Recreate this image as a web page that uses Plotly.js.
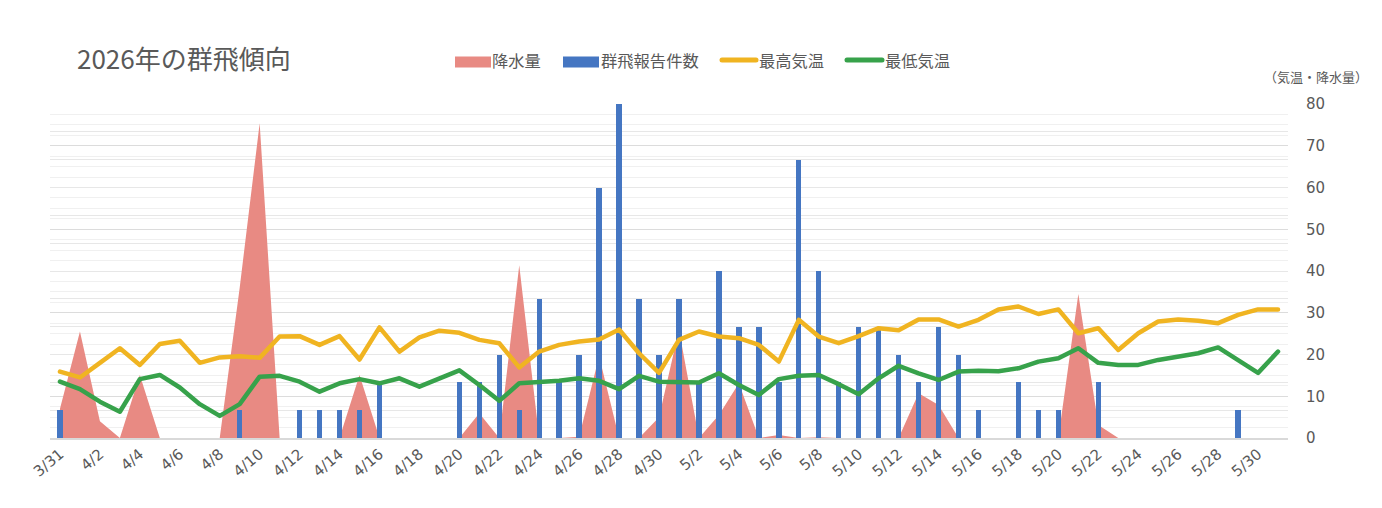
<!DOCTYPE html>
<html>
<head>
<meta charset="utf-8">
<script src="https://cdn.plot.ly/plotly-3.0.1.min.js"></script>
<style>
html,body{margin:0;padding:0;background:#fff;}
.scatterlayer .js-line{stroke-linejoin:round;stroke-linecap:round;}
.shapelayer path{stroke-linecap:round;}
</style>
</head>
<body>
<div id="chart" style="width:1382px;height:508px;"></div>
<script>
const categories = ["3/31",
 "4/1","4/2","4/3","4/4","4/5","4/6","4/7","4/8","4/9","4/10",
 "4/11","4/12","4/13","4/14","4/15","4/16","4/17","4/18","4/19","4/20",
 "4/21","4/22","4/23","4/24","4/25","4/26","4/27","4/28","4/29","4/30",
 "5/1","5/2","5/3","5/4","5/5","5/6","5/7","5/8","5/9","5/10",
 "5/11","5/12","5/13","5/14","5/15","5/16","5/17","5/18","5/19","5/20",
 "5/21","5/22","5/23","5/24","5/25","5/26","5/27","5/28","5/29","5/30","5/31"];

// 降水量 (mm)
const rainfall = [7,
 25.5,4,0,15.1,0,0,0,0,36,75.4,
 0,0,0,0,15.1,0,0,0,0,0,
 5.9,0,41.4,0,0,0.3,19.6,0,0,5,
 25.9,0,5.5,13.1,0,0.7,0,0.2,0,0,
 0,0,10.7,7.9,0,0,0,0,0,0,
 34.5,3.1,0,0,0,0,0,0,0,0,0];

// 群飛報告件数
const reports = [1,
 0,0,0,0,0,0,0,0,1,0,
 0,1,1,1,1,2,0,0,0,2,
 2,3,1,5,2,3,9,12,5,3,
 5,2,6,4,4,2,10,6,2,4,
 4,3,2,4,3,1,0,2,1,1,
 0,2,0,0,0,0,0,0,1,0,0];

// 最高気温
const tempHigh = [15.9,
 14.5,18.0,21.5,17.5,22.5,23.3,18.0,19.3,19.6,19.2,
 24.3,24.4,22.3,24.4,18.8,26.5,20.7,24.1,25.7,25.2,
 23.5,22.7,16.9,20.7,22.3,23.1,23.6,26.0,20.3,15.6,
 23.5,25.5,24.3,23.9,22.3,18.3,28.3,24.3,22.7,24.4,
 26.3,25.8,28.4,28.4,26.7,28.3,30.8,31.5,29.7,30.8,
 25.1,26.3,21.1,25.1,27.9,28.4,28.1,27.5,29.5,30.8,30.8];

// 最低気温
const tempLow = [13.5,
 11.7,8.7,6.3,14.1,15.1,12.1,8.1,5.3,8.1,14.7,
 14.9,13.5,11.1,13.1,14.1,13.1,14.3,12.3,14.3,16.2,
 12.7,8.9,13.1,13.3,13.7,14.3,13.7,11.7,14.9,13.5,
 13.3,13.3,15.5,12.7,10.3,14.1,14.9,15.1,12.9,10.5,
 14.3,17.3,15.5,13.9,15.9,16.1,16.0,16.7,18.3,19.1,
 21.5,18.0,17.5,17.5,18.7,19.5,20.3,21.7,18.7,15.6,20.7];

const seriesNames = ['降水量', '群飛報告件数', '最高気温', '最低気温'];
const seriesColors = ['#e88a83', '#4576c2', '#f0b421', '#37a24b'];

const yTicks = [0,10,20,30,40,50,60,70,80];
const xTickLabels = categories.filter((c, i) => i % 2 === 0);

const txt = '#595959';
const numFont = 'DejaVu Sans, Verdana, sans-serif';
const jpFont = 'Noto Sans CJK JP, sans-serif';

const traces = [
  {
    name: seriesNames[0], type: 'scatter', mode: 'lines',
    x: categories, y: rainfall, xaxis: 'x', yaxis: 'y',
    fill: 'tozeroy', fillcolor: seriesColors[0],
    line: {width: 0, color: seriesColors[0]}
  },
  {
    name: seriesNames[1], type: 'bar',
    x: categories, y: reports, xaxis: 'x', yaxis: 'y2',
    width: 0.27, marker: {color: seriesColors[1]}
  },
  {
    name: seriesNames[2], type: 'scatter', mode: 'lines',
    x: categories, y: tempHigh, xaxis: 'x', yaxis: 'y3',
    line: {color: seriesColors[2], width: 4.5}
  },
  {
    name: seriesNames[3], type: 'scatter', mode: 'lines',
    x: categories, y: tempLow, xaxis: 'x', yaxis: 'y3',
    line: {color: seriesColors[3], width: 4.5}
  }
];

// plot area in pixels: x 50..1288, y 104..438
const PX = (px) => (px - 50) / 1238;
const PY = (py) => (438 - py) / 334;
const legendSwatches = [
  {kind: 'rect', x0: 455, x1: 491, y: 62},
  {kind: 'rect', x0: 563, x1: 599, y: 62},
  {kind: 'line', x0: 722, x1: 756, y: 60},
  {kind: 'line', x0: 847, x1: 882, y: 60}
];
const legendTextX = [490, 599, 757, 883];

const shapes = legendSwatches.map((s, i) => s.kind === 'rect'
  ? {type: 'rect', xref: 'paper', yref: 'paper',
     x0: PX(s.x0), x1: PX(s.x1), y0: PY(s.y + 5.5), y1: PY(s.y - 5.5),
     fillcolor: seriesColors[i], line: {width: 0}}
  : {type: 'line', xref: 'paper', yref: 'paper',
     x0: PX(s.x0), x1: PX(s.x1), y0: PY(s.y), y1: PY(s.y),
     line: {color: seriesColors[i], width: 5}});

const annotations = seriesNames.map((n, i) => ({
  text: n, xref: 'paper', yref: 'paper',
  x: PX(legendTextX[i]), xanchor: 'left', y: PY(60), yanchor: 'middle',
  showarrow: false, font: {family: jpFont, size: 16.3, color: txt}
}));
annotations.push({
  text: '（気温・降水量）', xref: 'paper', yref: 'paper',
  x: PX(1370), xanchor: 'right', y: PY(76), yanchor: 'middle',
  showarrow: false, font: {family: jpFont, size: 13, color: txt}
});

const layout = {
  width: 1382, height: 508,
  margin: {l: 50, r: 94, t: 104, b: 70},
  paper_bgcolor: '#ffffff', plot_bgcolor: '#ffffff',
  font: {family: jpFont, color: txt},
  title: {
    text: '2026年の群飛傾向',
    x: 77/1382, xanchor: 'left', xref: 'container',
    y: 1 - 60/508, yanchor: 'middle', yref: 'container',
    font: {family: jpFont, size: 26, color: txt}
  },
  showlegend: false,
  bargap: 0,
  xaxis: {
    type: 'category', range: [-0.5, 61.5],
    tickmode: 'array', tickvals: xTickLabels, ticktext: xTickLabels,
    tickangle: -40, ticks: '', showgrid: false,
    showline: true, linecolor: '#d9d9d9', linewidth: 1.5,
    tickfont: {family: numFont, size: 15, color: txt},
    zeroline: false, fixedrange: true
  },
  yaxis: {
    range: [0, 80], dtick: 10, showticklabels: false,
    showgrid: true, gridcolor: '#dcdcdc', gridwidth: 1,
    minor: {dtick: 2.5, showgrid: true, gridcolor: '#f0f0f0', gridwidth: 1},
    zeroline: false, showline: false, ticks: ''
  },
  yaxis2: {
    range: [0, 12], dtick: 1, overlaying: 'y', side: 'left',
    showticklabels: false, showgrid: true, gridcolor: '#e7e7e7', gridwidth: 1,
    zeroline: false, showline: false, ticks: ''
  },
  yaxis3: {
    range: [0, 80], overlaying: 'y', side: 'right',
    tickmode: 'array', tickvals: yTicks, ticktext: yTicks.map(String),
    showgrid: false, zeroline: false, showline: false,
    ticks: 'outside', ticklen: 14, tickcolor: 'rgba(0,0,0,0)',
    tickfont: {family: numFont, size: 15, color: txt}
  },
  shapes: shapes,
  annotations: annotations
};

Plotly.newPlot('chart', traces, layout, {staticPlot: true, displayModeBar: false});
</script>
</body>
</html>
